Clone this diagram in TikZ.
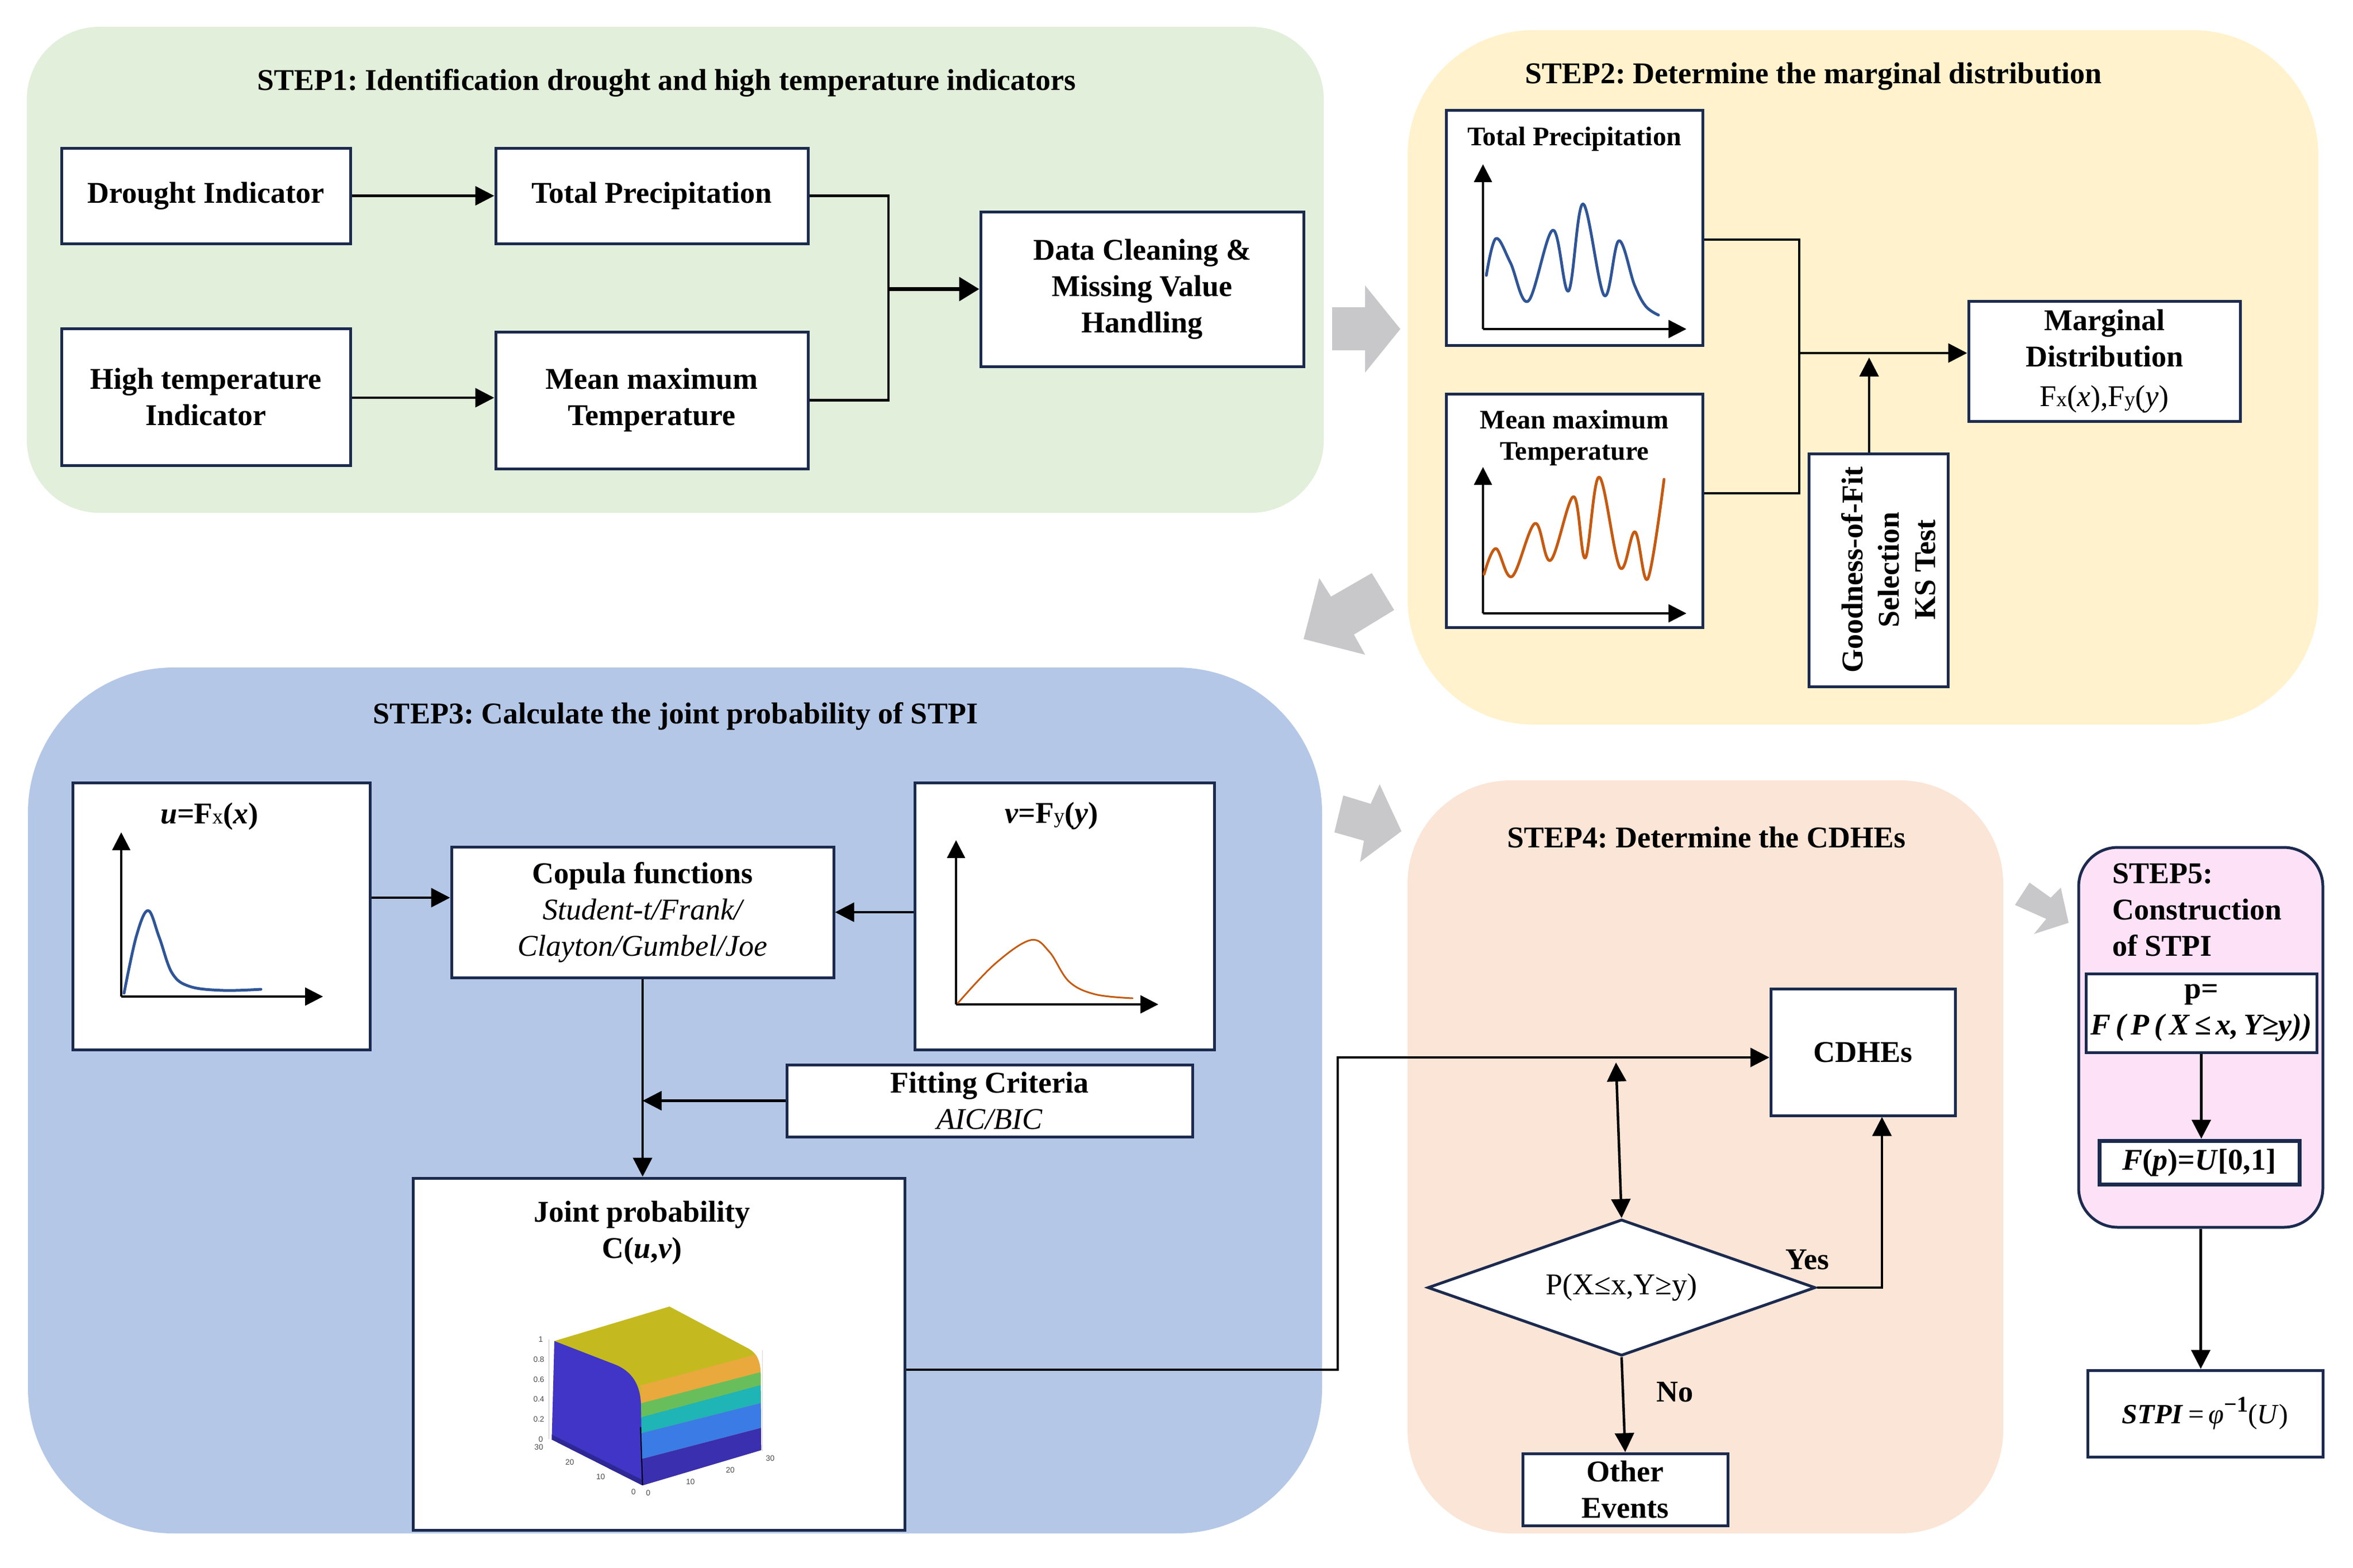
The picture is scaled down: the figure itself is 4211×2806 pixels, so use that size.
\documentclass[tikz,border=0pt]{standalone}
\usepackage{fontspec}
\setmainfont{Liberation Serif}
\newfontfamily\plotfont{Liberation Sans}
\usetikzlibrary{arrows.meta,shapes.geometric}
\definecolor{navy}{RGB}{27,42,78}
\definecolor{cA}{RGB}{226,239,218}
\definecolor{cB}{RGB}{255,242,204}
\definecolor{cC}{RGB}{180,199,231}
\definecolor{cD}{RGB}{251,229,214}
\definecolor{cE}{RGB}{253,225,247}
\definecolor{garr}{RGB}{200,200,202}
\definecolor{cblue}{RGB}{47,85,151}
\definecolor{corange}{RGB}{197,90,17}
\definecolor{ptop}{RGB}{196,186,32}
\definecolor{porange}{RGB}{233,169,61}
\definecolor{pgreen}{RGB}{105,190,92}
\definecolor{pcyan}{RGB}{31,180,181}
\definecolor{pblue}{RGB}{59,123,230}
\definecolor{pdblue}{RGB}{58,47,174}
\definecolor{pleft}{RGB}{64,53,198}
\definecolor{pfloor}{RGB}{46,40,150}
\newcommand{\fbig}{\fontsize{54}{65}\selectfont}
\newcommand{\fmid}{\fontsize{48}{56}\selectfont}
\newcommand{\subx}[1]{{\fontsize{38}{38}\selectfont\mdseries #1}}
\frenchspacing
\begin{document}
\begin{tikzpicture}[x=1pt,y=-1pt,
  box/.style={draw=navy,line width=5pt,fill=white,inner sep=0pt,align=center,font=\bfseries\fbig},
  panel/.style={inner sep=0pt,draw=none},
  conn/.style={line width=4.5pt,-{Triangle[length=34pt,width=34pt]}},
  plain/.style={line width=4.5pt},
  ax/.style={line width=3.5pt,-{Triangle[length=32pt,width=32pt]}},
  curve/.style={line width=5pt,line cap=round,line join=round},
  garrow/.style={fill=garr,draw=none},
  lbl/.style={inner sep=0pt,align=center,font=\bfseries\fbig},
  tick/.style={inner sep=0pt,font=\plotfont\fontsize{14}{14}\selectfont,text=black!70}]
\useasboundingbox (0,0) rectangle (4211,2806);
\fill[white] (0,0) rectangle (4211,2806);

% ---------- panels ----------
\node[panel,fill=cA,rounded corners=130pt,minimum width=2321pt,minimum height=870pt] (p1) at (1208.5,483) {};
\node[panel,fill=cB,rounded corners=225pt,minimum width=1630pt,minimum height=1243pt] (p2) at (3334,675.5) {};
\node[panel,fill=cC,rounded corners=260pt,minimum width=2316pt,minimum height=1550pt] (p3) at (1208,1970) {};
\node[panel,fill=cD,rounded corners=185pt,minimum width=1066pt,minimum height=1348pt] (p4) at (3052,2071) {};
\node[panel,fill=cE,draw=navy,line width=5pt,rounded corners=70pt,minimum width=437pt,minimum height=680pt] (p5) at (3938.5,1857) {};

% ---------- gray block arrows ----------
\fill[garrow] (2384,550) -- (2443,550) -- (2443,511) -- (2506,589) -- (2443,667) -- (2443,627) -- (2384,627) -- cycle;
\fill[garrow] (2455,1026) -- (2495,1092) -- (2423,1136) -- (2443,1172) -- (2333,1144) -- (2361,1035) -- (2382,1068) -- cycle;
\fill[garrow] (2404,1424) -- (2453,1439) -- (2469,1404) -- (2508,1488) -- (2434,1543) -- (2441,1505) -- (2388,1490) -- cycle;
\fill[garrow] (3632,1580) -- (3670,1607) -- (3688,1589) -- (3702,1652) -- (3640,1672) -- (3662,1645) -- (3606,1620) -- cycle;

% ---------- titles ----------
\node[lbl] (t1) at (1193,148) {STEP1: Identification drought and high temperature indicators};
\node[lbl] (t2) at (3245,137) {STEP2: Determine the marginal distribution};
\node[lbl] (t3) at (1209,1282) {STEP3: Calculate the joint probability of STPI};
\node[lbl] (t4) at (3054,1499) {STEP4: Determine the CDHEs};
\node[lbl,align=left,anchor=west] (t5) at (3780,1629) {STEP5:\\Construction\\of STPI};

% ---------- STEP1 ----------
\node[box,minimum width=517pt,minimum height=171pt] (drought) at (368.5,350.5) {Drought Indicator};
\node[box,minimum width=559pt,minimum height=171pt] (tp1) at (1166.5,350.5) {Total Precipitation};
\node[box,minimum width=517pt,minimum height=245pt] (hti) at (368.5,710.5) {High temperature\\Indicator};
\node[box,minimum width=559pt,minimum height=245pt] (mmt) at (1166.5,716.5) {Mean maximum\\Temperature};
\node[box,minimum width=578pt,minimum height=277pt] (dc) at (2044,517.5) {Data Cleaning \&\\Missing Value\\Handling};
\draw[conn] (drought) -- (tp1);
\coordinate (ha) at (0,712);
\draw[conn] (hti.east |- ha) -- (mmt.west |- ha);
\coordinate (jn1) at (1590,517.5);
\draw[plain] (tp1.east) -| (jn1) |- (mmt.east);
\draw[line width=7pt,-{Triangle[length=36pt,width=42pt]}] (jn1) -- (dc.west);

% ---------- STEP2 ----------
\node[box,minimum width=459pt,minimum height=421pt] (tp2) at (2817.5,407.5) {};
\node[lbl,font=\bfseries\fmid] (tp2t) at (2817.5,249) {Total Precipitation};
\draw[ax] (2654,589) -- (2654,294);
\draw[ax] (2654,589) -- (3018,589);
\draw[curve,cblue] plot[smooth,tension=0.6] coordinates {(2660,493) (2677,427) (2703,470) (2735,539) (2779,412) (2807,521) (2833,365) (2871,529) (2897,431) (2925,510) (2945,548) (2968,564)};

\node[box,minimum width=459pt,minimum height=418pt] (mm2) at (2817.5,914) {};
\node[lbl,font=\bfseries\fmid] (mm2t) at (2817.5,784) {Mean maximum\\Temperature};
\draw[ax] (2654,1098) -- (2654,836);
\draw[ax] (2654,1098) -- (3018,1098);
\draw[curve,corange] plot[smooth,tension=0.6] coordinates {(2656,1028) (2677,982) (2706,1032) (2747,937) (2775,1003) (2816,889) (2837,999) (2862,854) (2899,1016) (2926,952) (2949,1036) (2978,858)};

\node[box,minimum width=486pt,minimum height=215pt] (md) at (3766,646.5) {Marginal\\Distribution\\[6pt]{\mdseries F\subx{x}(\textit{x}),F\subx{y}(\textit{y})}};
\node[box,minimum width=249pt,minimum height=417pt] (gof) at (3361.5,1020.5) {};
\node[lbl,rotate=90] (goft) at (3380,1020) {Goodness-of-Fit\\Selection\\KS Test};

\coordinate (jn2) at (3220,632);
\coordinate (tpy) at (0,429);
\coordinate (mmy) at (0,883);
\draw[plain] (tp2.east |- tpy) -| (jn2) |- (mm2.east |- mmy);
\draw[conn] (jn2) -- (jn2 -| md.west);
\coordinate (ga) at (3345,640);
\draw[conn] (gof.north -| ga) -- (ga);

% ---------- STEP3 ----------
\node[box,minimum width=532pt,minimum height=478pt] (ubox) at (396,1640) {};
\node[lbl] (ut) at (375,1461) {\textit{u}=F\subx{x}(\textit{x})};
\draw[ax] (217,1784) -- (217,1490);
\draw[ax] (217,1784) -- (578,1784);
\draw[curve,cblue] plot[smooth,tension=0.6] coordinates {(222,1778) (244,1676) (265,1630) (285,1678) (308,1742) (340,1766) (400,1773) (467,1771)};

\node[box,minimum width=684pt,minimum height=234pt] (cop) at (1150,1633) {Copula functions\\{\mdseries\itshape Student-t/Frank/}\\{\mdseries\itshape Clayton/Gumbel/Joe}};

\node[box,minimum width=536pt,minimum height=478pt] (vbox) at (1905,1640) {};
\node[lbl] (vt) at (1882,1461) {\textit{v}=F\subx{y}(\textit{y})};
\draw[ax] (1711,1798) -- (1711,1504);
\draw[ax] (1711,1798) -- (2073,1798);
\draw[curve,corange,line width=3pt] plot[smooth,tension=0.6] coordinates {(1714,1796) (1780,1726) (1844,1683) (1878,1704) (1913,1757) (1960,1780) (2027,1787)};

\node[box,minimum width=726pt,minimum height=129pt] (fit) at (1771,1970.5) {Fitting Criteria\\{\mdseries\itshape AIC/BIC}};
\node[box,minimum width=880pt,minimum height=630pt] (joint) at (1179,2424) {};
\node[lbl] (jt) at (1149,2207) {Joint probability\\C(\textit{u},\textit{v})};

% surface plot
\begin{scope}[shift={(900,2280)},scale=0.357]
  \begin{scope}
    \clip (258,338) -- (835,165) -- (1230,375) .. controls (1275,400) and (1290,440) .. (1292,500) -- (1295,885) -- (700,1062) -- (245,832) -- cycle;
    \fill[ptop] (0,0) rectangle (1400,1200);
    \fill[porange] (690,561) -- (1400,370) -- (1400,466) -- (690,651) -- cycle;
    \fill[pgreen] (690,651) -- (1400,466) -- (1400,530) -- (690,721) -- cycle;
    \fill[pcyan] (690,721) -- (1400,530) -- (1400,622) -- (690,801) -- cycle;
    \fill[pblue] (690,801) -- (1400,622) -- (1400,746) -- (690,931) -- cycle;
    \fill[pdblue] (690,931) -- (1400,746) -- (1400,1200) -- (690,1200) -- cycle;
    \fill[pleft] (200,300) -- (258,338) -- (560,455) .. controls (650,490) and (690,560) .. (692,660) -- (700,1100) -- (200,1100) -- cycle;
    \fill[pfloor] (240,805) -- (700,1035) -- (700,1070) -- (240,840) -- cycle;
  \end{scope}
  \draw[black,line width=2pt] (690,770) -- (700,1060);
  \draw[black!25,line width=1.2pt] (230,330) -- (230,830);
  \draw[black!15,line width=1pt] (1300,385) -- (1300,890);
  \node[tick] (k1) at (190,330) {1};
  \node[tick] (k2) at (180,430) {0.8};
  \node[tick] (k3) at (180,530) {0.6};
  \node[tick] (k4) at (180,630) {0.4};
  \node[tick] (k5) at (180,730) {0.2};
  \node[tick] (k6) at (190,830) {0};
  \node[tick] (k7) at (180,870) {30};
  \node[tick] (k8) at (335,945) {20};
  \node[tick] (k9) at (490,1020) {10};
  \node[tick] (k10) at (655,1095) {0};
  \node[tick] (k11) at (728,1100) {0};
  \node[tick] (k12) at (940,1045) {10};
  \node[tick] (k13) at (1140,985) {20};
  \node[tick] (k14) at (1340,925) {30};
\end{scope}

\coordinate (ua) at (0,1607);
\draw[conn] (ubox.east |- ua) -- (cop.west |- ua);
\coordinate (va) at (0,1633);
\draw[conn] (vbox.west |- va) -- (cop.east |- va);
\draw[conn] (cop.south) -- (cop.south |- joint.north);
\draw[conn] (fit.west) -- (fit.west -| cop.south);

% ---------- STEP4 ----------
\node[box,minimum width=330pt,minimum height=227pt] (cdhe) at (3334,1883.5) {CDHEs};
\node[box,diamond,aspect=2.84,minimum width=694pt,minimum height=244pt,font=\fbig] (dia) at (2902,2305) {P(X≤x,Y≥y)};
\node[box,minimum width=367pt,minimum height=129pt] (other) at (2908.5,2666.5) {Other\\Events};
\coordinate (j1) at (2394,2452);
\coordinate (j2) at (2394,1893);
\draw[conn] (joint.east |- j1) -- (j1) -- (j2) -- (j2 -| cdhe.west);
\coordinate (da) at (2892,1902);
\draw[line width=4.5pt,{Triangle[length=34pt,width=34pt]}-{Triangle[length=34pt,width=34pt]}] (da) -- (dia.north);
\coordinate (yc) at (3368,2305);
\draw[conn] (dia.east) -- (yc) -- (yc |- cdhe.south);
\draw[conn] (dia.south) -- (other.north);
\node[lbl] (yes) at (3234,2255) {Yes};
\node[lbl] (no) at (2997,2492) {No};

% ---------- STEP5 ----------
\node[box,minimum width=413pt,minimum height=141pt] (pbox) at (3939.5,1813.5) {p=\\{\itshape F\,(\,P\,(\,X\,≤\,x,\,Y≥y))}};
\node[box,line width=7pt,minimum width=358pt,minimum height=78pt] (fbox) at (3936,2081) {\textit{F}(\textit{p})=\textit{U}[0,1]};
\node[box,minimum width=421pt,minimum height=155pt,font=\fontsize{50}{58}\selectfont] (stpi) at (3946.5,2530.5) {\textbf{\textit{STPI}}\,=\,\textit{φ}\raisebox{0.42em}{\fontsize{40}{40}\selectfont\bfseries −1}(\textit{U})};
\draw[conn] (pbox.south) -- (pbox.south |- fbox.north);
\draw[conn] (p5.south) -- (p5.south |- stpi.north);
\end{tikzpicture}
\end{document}
